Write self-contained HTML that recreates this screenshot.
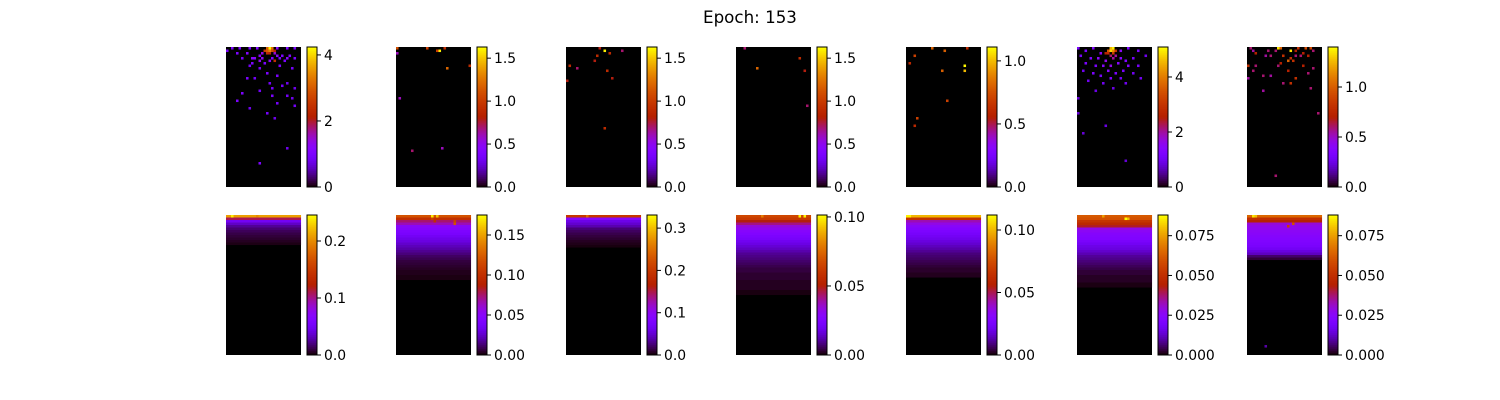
<!DOCTYPE html>
<html><head><meta charset="utf-8">
<style>
html,body{margin:0;padding:0;background:#fff;}
svg{display:block;font-family:"DejaVu Sans","Liberation Sans",sans-serif;}
</style></head>
<body>
<svg id="fig" width="1500" height="400" viewBox="0 0 1500 400" xmlns="http://www.w3.org/2000/svg">
<rect width="1500" height="400" fill="#fff"/>
<text x="750" y="23" text-anchor="middle" font-size="16.7">Epoch: 153</text>
</svg>
<script>
// grid size of each heatmap
const nCols = 30;
const nRows = 56;
// top row: colorbar max values and ticks
const topMax = [4.24, 1.63, 1.63, 1.63, 1.11, 5.09, 1.40];
const topTicks = [[0,2,4],[0,0.5,1,1.5],[0,0.5,1,1.5],[0,0.5,1,1.5],[0,0.5,1],[0,2,4],[0,0.5,1]];
const topLabels = [["0","2","4"],["0.0","0.5","1.0","1.5"],["0.0","0.5","1.0","1.5"],["0.0","0.5","1.0","1.5"],["0.0","0.5","1.0"],["0","2","4"],["0.0","0.5","1.0"]];
// top row sparse cells: [col,row,value]
const topCells0 = [[16,0,3.0],[17,0,4.2],[18,0,3.2],[15,1,2.6],[16,1,3.0],[17,1,3.4],[18,1,2.8],[19,1,2.2],[16,2,2.4],[17,2,2.2],[14,2,1.4],[19,2,1.5],[2,0,1.0],[5,0,1.0],[9,0,1.0],[12,0,1.1],[20,0,1.2],[24,0,1.0],[27,0,0.9],[0,1,1.0],[4,2,1.0],[8,2,1.1],[13,3,1.2],[20,3,1.2],[22,3,1.0],[25,3,1.1],[6,4,0.9],[10,4,1.2],[11,4,1.2],[14,4,1.3],[18,4,1.1],[21,4,1.0],[24,4,1.2],[27,4,1.0],[13,5,1.3],[17,5,1.2],[19,5,2.4],[23,5,1.0],[10,6,1.0],[15,6,1.0],[9,7,0.9],[21,7,1.0],[13,8,0.9],[26,8,0.9],[16,10,1.0],[20,11,1.0],[8,12,1.0],[11,12,0.9],[17,14,0.9],[24,14,0.8],[22,15,0.9],[18,16,0.9],[27,16,0.8],[13,17,0.9],[6,18,1.0],[18,19,1.0],[24,19,0.9],[26,20,0.8],[4,21,1.0],[20,22,0.9],[9,24,0.8],[16,26,0.9],[19,28,0.8],[13,46,1.0],[24,40,0.8],[27,23,0.9]];
const topCells1 = [[0,0,1.1],[12,0,1.0],[16,1,1.0],[17,1,1.6],[19,0,0.9],[0,2,0.6],[20,8,1.2],[29,7,0.9],[1,20,0.6],[6,41,0.7],[18,40,0.6]];
const topCells2 = [[1,7,0.9],[13,0,0.8],[15,1,1.6],[17,2,0.9],[12,3,0.9],[11,5,0.8],[4,8,0.7],[16,9,0.9],[0,13,0.8],[18,12,0.8],[15,32,0.9],[22,1,0.7]];
const topCells3 = [[8,8,1.2],[25,4,0.9],[27,9,0.8],[28,23,0.7],[3,0,0.7]];
const topCells4 = [[3,3,0.7],[10,0,0.8],[15,1,0.8],[24,0,0.6],[14,9,0.8],[23,9,1.0],[1,6,0.6],[16,21,0.7],[4,28,0.7],[3,31,0.6],[23,7,1.1]];
const topCells5 = [[13,0,4.5],[14,0,5.0],[12,1,3.5],[13,1,4.8],[14,1,4.2],[15,1,3.0],[11,2,2.6],[12,2,2.8],[14,2,3.2],[13,3,2.2],[15,3,2.0],[14,4,2.0],[0,0,1.2],[3,1,1.2],[6,0,1.3],[9,2,1.5],[17,1,1.5],[20,0,1.2],[24,1,1.1],[1,3,1.1],[5,4,1.2],[8,4,1.5],[11,5,1.6],[17,4,1.4],[19,5,1.3],[22,4,1.1],[27,3,1.0],[3,6,1.2],[7,7,1.2],[10,7,1.4],[13,7,1.6],[16,6,1.4],[20,7,1.3],[24,7,1.1],[2,9,1.0],[6,10,1.2],[12,9,1.4],[15,10,1.2],[18,9,1.2],[22,10,1.0],[9,11,1.1],[13,12,1.2],[17,12,1.0],[25,12,1.0],[4,13,1.0],[10,14,1.0],[19,14,1.0],[14,16,0.9],[7,17,0.9],[0,20,0.8],[11,31,0.9],[2,34,0.8],[19,45,0.8],[0,26,0.8]];
const topCells6 = [[12,0,1.35],[13,0,1.0],[17,1,1.35],[23,0,0.9],[25,0,0.9],[19,1,0.7],[20,0,0.8],[11,1,0.6],[8,1,0.6],[2,1,0.55],[1,0,0.6],[3,2,0.7],[7,3,0.55],[9,3,0.6],[14,3,0.8],[17,4,0.8],[19,3,0.6],[21,3,0.6],[24,3,0.7],[22,2,0.7],[26,1,0.6],[16,5,1.0],[18,5,0.8],[12,7,0.6],[13,6,0.7],[0,7,0.8],[3,7,0.6],[22,7,0.7],[26,8,0.6],[9,11,0.55],[6,11,0.6],[2,9,0.6],[16,9,0.7],[24,10,0.6],[19,12,0.8],[14,14,0.6],[17,14,0.8],[0,12,0.55],[25,16,0.6],[6,17,0.55],[28,26,0.6],[11,51,0.6]];
const topCells = [topCells0, topCells1, topCells2, topCells3, topCells4, topCells5, topCells6];
// bottom row: colorbar max values, ticks
const botMax = [0.2456, 0.175, 0.331, 0.1014, 0.112, 0.088, 0.088];
const botTicks = [[0,0.1,0.2],[0,0.05,0.1,0.15],[0,0.1,0.2,0.3],[0,0.05,0.1],[0,0.05,0.1],[0,0.025,0.05,0.075],[0,0.025,0.05,0.075]];
const botLabels = [["0.0","0.1","0.2"],["0.00","0.05","0.10","0.15"],["0.0","0.1","0.2","0.3"],["0.00","0.05","0.10"],["0.00","0.05","0.10"],["0.000","0.025","0.050","0.075"],["0.000","0.025","0.050","0.075"]];
// bottom row: mean value per row from top (rest ~0)
const botProfile0 = [0.21,0.11,0.05,0.035,0.025,0.018,0.014,0.011,0.009,0.007,0.005,0.003];
const botProfile1 = [0.12,0.1,0.075,0.065,0.05,0.046,0.043,0.04,0.036,0.032,0.03,0.026,0.023,0.02,0.017,0.014,0.011,0.009,0.007,0.006,0.005,0.004,0.003,0.003,0.002,0.002];
const botProfile2 = [0.2,0.09,0.06,0.05,0.04,0.025,0.02,0.016,0.013,0.01,0.007,0.005,0.003];
const botProfile3 = [0.066,0.062,0.05,0.042,0.034,0.031,0.028,0.026,0.024,0.022,0.02,0.018,0.016,0.014,0.012,0.01,0.009,0.008,0.007,0.006,0.005,0.004,0.004,0.003,0.003,0.003,0.002,0.002,0.002,0.002,0.001,0.001];
const botProfile4 = [0.1,0.065,0.042,0.036,0.032,0.029,0.027,0.025,0.023,0.021,0.019,0.017,0.015,0.013,0.011,0.009,0.008,0.007,0.006,0.005,0.004,0.003,0.003,0.002,0.002];
const botProfile5 = [0.062,0.06,0.052,0.048,0.042,0.028,0.026,0.024,0.023,0.022,0.02,0.018,0.016,0.015,0.013,0.011,0.009,0.008,0.007,0.006,0.005,0.004,0.003,0.003,0.002,0.002,0.002,0.001,0.001];
const botProfile6 = [0.065,0.05,0.045,0.03,0.028,0.027,0.026,0.025,0.024,0.023,0.022,0.021,0.02,0.018,0.015,0.012,0.006,0.003];
const botProfiles = [botProfile0, botProfile1, botProfile2, botProfile3, botProfile4, botProfile5, botProfile6];
// bottom row hot spots: [col,row,value]
const botSpots0 = [[2,0,0.24],[12,0,0.2]];
const botSpots1 = [[14,0,0.17],[16,0,0.16],[23,2,0.11],[23,3,0.12],[14,1,0.11],[15,2,0.1]];
const botSpots2 = [[8,0,0.25]];
const botSpots3 = [[25,0,0.1],[27,0,0.1],[10,0,0.08]];
const botSpots4 = [[0,0,0.11],[1,0,0.11]];
const botSpots5 = [[19,1,0.088],[20,1,0.08],[10,0,0.075]];
const botSpots6 = [[2,0,0.085],[3,0,0.08],[18,3,0.06],[16,4,0.055],[7,52,0.01]];
const botSpots = [botSpots0, botSpots1, botSpots2, botSpots3, botSpots4, botSpots5, botSpots6];

const panelX = [226, 396, 566, 736, 906, 1077, 1247];
const rowY = [47, 215];
const W = 75, H = 140;
const NS = 'http://www.w3.org/2000/svg';
const svg = document.getElementById('fig');

function gnuplot(t){
  t = Math.max(0, Math.min(1, t));
  const r = Math.sqrt(t), g = t*t*t, b = Math.max(0, Math.sin(2*Math.PI*t));
  return 'rgb(' + Math.round(r*255) + ',' + Math.round(g*255) + ',' + Math.round(b*255) + ')';
}
function mk(tag, attrs, parent){
  const e = document.createElementNS(NS, tag);
  for (const k in attrs) e.setAttribute(k, attrs[k]);
  parent.appendChild(e);
  return e;
}
const xScale = c => c * W / nCols;
const yScale = r => r * H / nRows;

function drawPanel(row, p, cells, max, ticks, labels){
  const x0 = panelX[p], y0 = rowY[row];
  const g = mk('g', {transform: 'translate(' + x0 + ',' + y0 + ')'}, svg);
  
  
  const bg = mk('rect', {x: 0, y: 0, width: W, height: H, fill: '#000'}, g);
  
  
  cells.forEach(c => {
    const r = mk('rect', {x: xScale(c[0]), y: yScale(c[1]), width: W/nCols + 0.05, height: H/nRows + 0.05, fill: gnuplot(c[2]/max)}, g);
    
    
  });
  const cb = mk('g', {transform: 'translate(' + (x0 + 81) + ',' + y0 + ')'}, svg);
  
  
  const n = 70;
  for (let i = 0; i < n; i++){
    mk('rect', {x: 0, y: H - (i+1)*H/n, width: 10, height: H/n + 0.3, fill: gnuplot((i+0.5)/n)}, cb);
  }
  mk('rect', {x: 0, y: 0, width: 10, height: H, fill: 'none', stroke: '#000', 'stroke-width': 1}, cb);
  ticks.forEach((t, i) => {
    const y = H - t / max * H;
    mk('line', {x1: 10, x2: 14, y1: y, y2: y, stroke: '#000', 'stroke-width': 1}, cb);
    const tx = mk('text', {x: 17, y: y + 5, 'font-size': 13.9, fill: '#000'}, cb);
    
    
    tx.textContent = labels[i];
  });
}

for (let p = 0; p < 7; p++){
  drawPanel(0, p, topCells[p], topMax[p], topTicks[p], topLabels[p]);
  const cells = [];
  botProfiles[p].forEach((v, r) => {
    for (let c = 0; c < nCols; c++) cells.push([c, r, v]);
  });
  botSpots[p].forEach(s => cells.push(s));
  drawPanel(1, p, cells, botMax[p], botTicks[p], botLabels[p]);
}
</script>
</body></html>
